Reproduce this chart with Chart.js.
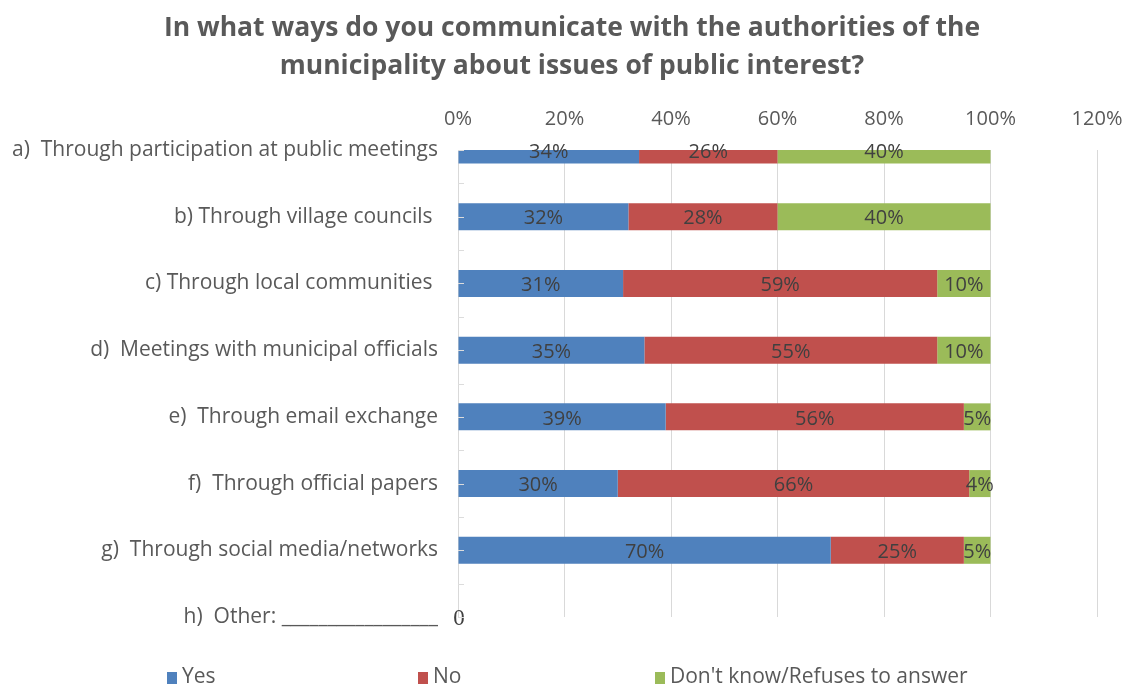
<!DOCTYPE html>
<html lang="en">
<head>
    <meta charset="utf-8">
    <script src="https://cdn.jsdelivr.net/npm/chart.js"></script>
    <style>
        body { margin: 0; background: #ffffff; font-family: "Open Sans", sans-serif; }
        .wrap { position: relative; width: 1127px; height: 686px; }
        #legend { position: absolute; top: 663px; left: 0; width: 1127px; height: 24px; }
        .item { position: absolute; top: 0; font-size: 21px; color: #595959; line-height: 24px; white-space: nowrap; }
        .box { display: inline-block; width: 10px; height: 12px; margin-right: 5px; vertical-align: -1px; }
    </style>
</head>
<body>
    <div class="wrap">
        <canvas id="barChart" width="1127" height="686"></canvas>
        <div id="legend"></div>
    </div>
    <script>
        // categories and values (percent)
        const categories = [
            'a)  Through participation at public meetings',
            'b) Through village councils ',
            'c) Through local communities ',
            'd)  Meetings with municipal officials',
            'e)  Through email exchange',
            'f)  Through official papers',
            'g)  Through social media/networks',
            'h)  Other: _________________'
        ];
        const seriesNames = ['Yes', 'No', "Don't know/Refuses to answer"];
        const yesValues = [34, 32, 31, 35, 39, 30, 70, 0];
        const noValues = [26, 28, 59, 55, 56, 66, 25, null];
        const dontKnowValues = [40, 40, 10, 10, 5, 4, 5, null];
        const tickValues = [0, 20, 40, 60, 80, 100, 120];
        const colors = ['#4f81bd', '#c0504d', '#9bbb59'];
        const titleLines = ['In what ways do you communicate with the authorities of the',
                            'municipality about issues of public interest?'];

        // labels in the middle of each segment
        const segmentLabels = {
            id: 'segmentLabels',
            afterDatasetsDraw(chart) {
                const ctx = chart.ctx;
                ctx.save();
                ctx.textAlign = 'center';
                ctx.textBaseline = 'middle';
                chart.data.datasets.forEach((ds, i) => {
                    const meta = chart.getDatasetMeta(i);
                    meta.data.forEach((bar, j) => {
                        const v = ds.data[j];
                        if (v === null || v === undefined) return;
                        if (v === 0) {
                            ctx.font = '23px "Liberation Serif"';
                            ctx.fillStyle = '#404040';
                            ctx.fillText('0', bar.base + 1, bar.y + 2);
                            return;
                        }
                        ctx.font = '20px "Open Sans"';
                        ctx.fillStyle = '#404040';
                        ctx.fillText(v + '%', (bar.x + bar.base) / 2, bar.y + 2);
                    });
                });
                ctx.restore();
            }
        };

        // little inside tick marks on the category axis
        const innerTicks = {
            id: 'innerTicks',
            afterDatasetsDraw(chart) {
                const ctx = chart.ctx;
                const y = chart.scales.y;
                const x0 = chart.chartArea.left;
                ctx.save();
                ctx.strokeStyle = '#dcdcdc';
                ctx.lineWidth = 1;
                for (let i = 0; i < categories.length; i++) {
                    const p = y.getPixelForValue(i);
                    const marks = [p];
                    if (i < categories.length - 1) marks.push((p + y.getPixelForValue(i + 1)) / 2);
                    marks.forEach(m => {
                        ctx.beginPath();
                        ctx.moveTo(x0, Math.round(m) + 0.5);
                        ctx.lineTo(x0 + 6, Math.round(m) + 0.5);
                        ctx.stroke();
                    });
                }
                ctx.restore();
            }
        };

        // title, centred a bit right of the canvas middle like the original
        const chartTitle = {
            id: 'chartTitle',
            afterDraw(chart) {
                const ctx = chart.ctx;
                ctx.save();
                ctx.font = 'bold 26.5px "Open Sans"';
                ctx.fillStyle = '#595959';
                ctx.textAlign = 'center';
                ctx.textBaseline = 'middle';
                titleLines.forEach((t, i) => ctx.fillText(t, 572, 28 + i * 38));
                ctx.restore();
            }
        };

        const ctx = document.getElementById('barChart').getContext('2d');
        new Chart(ctx, {
            type: 'bar',
            data: {
                labels: categories,
                datasets: [yesValues, noValues, dontKnowValues].map((vals, i) => ({
                    label: seriesNames[i],
                    data: vals,
                    backgroundColor: colors[i],
                    borderWidth: 0,
                    categoryPercentage: 1,
                    barPercentage: 0.405
                }))
            },
            options: {
                responsive: false,
                animation: false,
                indexAxis: 'y',
                layout: { padding: { left: 10, right: 30, bottom: 69, top: 91 } },
                plugins: {
                    legend: { display: false },
                    tooltip: { enabled: false },
                    title: { display: false }
                },
                scales: {
                    x: {
                        position: 'top',
                        stacked: true,
                        min: 0,
                        max: 120,
                        afterBuildTicks: s => { s.ticks = tickValues.map(v => ({ value: v })); },
                        afterFit: s => { s.height = 59; s.paddingLeft = 0; s.paddingRight = 0; },
                        ticks: {
                            callback: v => v + '%',
                            color: '#595959',
                            font: { family: 'Open Sans', size: 20 },
                            padding: 19
                        },
                        grid: { color: '#d9d9d9', drawTicks: false },
                        border: { display: false }
                    },
                    y: {
                        stacked: true,
                        offset: false,
                        afterFit: s => { s.width = 448; },
                        ticks: {
                            color: '#595959',
                            font: { family: 'Open Sans', size: 21 },
                            padding: 20
                        },
                        grid: { display: false, drawTicks: false },
                        border: { display: true, color: '#d9d9d9' }
                    }
                }
            },
            plugins: [segmentLabels, innerTicks, chartTitle]
        });

        // legend spread out like the original
        const legendLeft = [167, 418, 655];
        const legend = document.getElementById('legend');
        seriesNames.forEach((name, i) => {
            const item = document.createElement('div');
            item.className = 'item';
            item.style.left = legendLeft[i] + 'px';
            item.innerHTML = '<span class="box" style="background:' + colors[i] + '"></span>';
            item.appendChild(document.createTextNode(name));
            legend.appendChild(item);
        });
    </script>
</body>
</html>
